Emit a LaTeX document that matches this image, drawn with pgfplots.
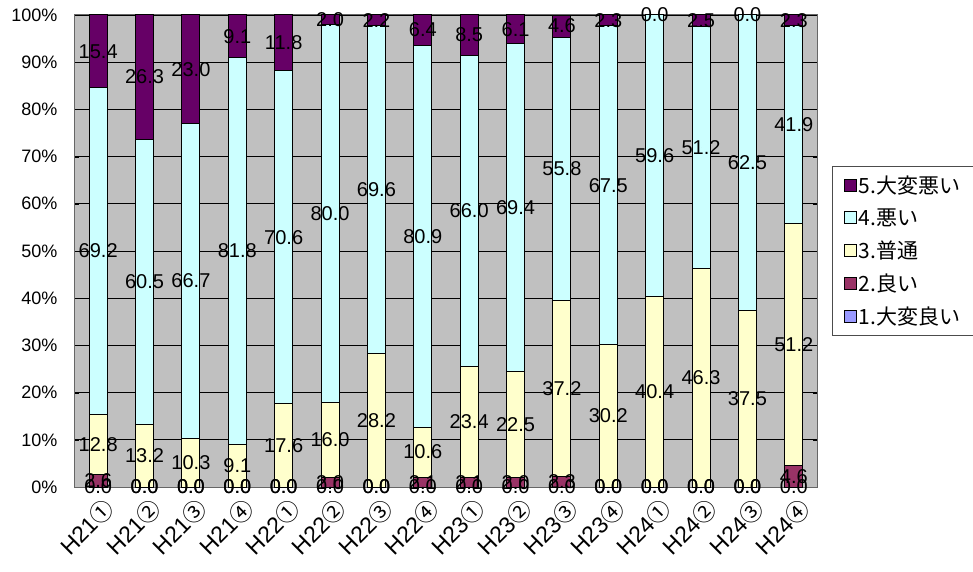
\documentclass[border=0pt]{standalone}
\usepackage{fontspec}
\setmainfont{Liberation Sans}
\newfontfamily\jp{Noto Sans CJK JP}
\usepackage{pgfplots}
\pgfplotsset{compat=1.18}
\usepackage{pgfplotstable}

\definecolor{c1}{HTML}{9999FF}
\definecolor{c2}{HTML}{993366}
\definecolor{c3}{HTML}{FFFFCC}
\definecolor{c4}{HTML}{CCFFFF}
\definecolor{c5}{HTML}{660066}
\definecolor{plotbg}{HTML}{C0C0C0}

% share of answers per quarter, 1 = very good ... 5 = very bad
\pgfplotstableread{
x  v1  v2  v3   v4   v5
0  0.0 2.6 12.8 69.2 15.4
1  0.0 0.0 13.2 60.5 26.3
2  0.0 0.0 10.3 66.7 23.0
3  0.0 0.0 9.1  81.8 9.1
4  0.0 0.0 17.6 70.6 11.8
5  0.0 2.0 16.0 80.0 2.0
6  0.0 0.0 28.2 69.6 2.2
7  0.0 2.1 10.6 80.9 6.4
8  0.0 2.1 23.4 66.0 8.5
9  0.0 2.0 22.5 69.4 6.1
10 0.0 2.3 37.2 55.8 4.6
11 0.0 0.0 30.2 67.5 2.3
12 0.0 0.0 40.4 59.6 0.0
13 0.0 0.0 46.3 51.2 2.5
14 0.0 0.0 37.5 62.5 0.0
15 0.0 4.6 51.2 41.9 2.3
}\data

\pgfplotsset{
  /pgf/number format/assume math mode=true,
  common/.style={scale only axis, width=742pt, height=472pt,
    xmin=-0.5, xmax=15.5, ymin=0, ymax=100},
  seg/.style={fill=#1, draw=black, line width=1pt},
  lab/.style={only marks, mark=*, mark size=0pt, mark options={draw=none, fill=none},
    nodes near coords={\pgfmathprintnumber[fixed,fixed zerofill,precision=1,assume math mode=true]{\pgfplotspointmeta}},
    nodes near coords align=center,
    every node near coord/.append style={anchor=center, inner sep=0pt, text=black,
      font=\fontsize{20}{20}\selectfont}},
}

\begin{document}
\begin{tikzpicture}
\begin{axis}[
    common,
    ybar stacked,
    bar width=18pt,
    xtick={0,...,15},
    xticklabels={H21{\jp ①},H21{\jp ②},H21{\jp ③},H21{\jp ④},
                 H22{\jp ①},H22{\jp ②},H22{\jp ③},H22{\jp ④},
                 H23{\jp ①},H23{\jp ②},H23{\jp ③},H23{\jp ④},
                 H24{\jp ①},H24{\jp ②},H24{\jp ③},H24{\jp ④}},
    minor xtick={-0.5,0.5,...,15.5},
    xtick style={draw=none},
    minor tick length=6pt,
    xticklabel style={rotate=45, anchor=north east, yshift=-6pt,
        font=\fontsize{23}{23}\selectfont},
    ytick={0,10,...,100},
    yticklabel={\pgfmathprintnumber{\tick}\%},
    yticklabel style={font=\fontsize{18}{18}\selectfont, xshift=-14pt},
    ytick style={black},
    ymajorgrids=true,
    grid style={black, line width=0.8pt},
    axis line style={draw=gray!80!black, line width=1pt},
    axis background/.style={fill=plotbg},
    reverse legend,
    legend style={at={(1.02,0.5)}, anchor=west, draw=gray!60!black, fill=white,
        font=\jp\fontsize{21}{23}\selectfont, row sep=10pt,
        inner xsep=12pt, inner ysep=7pt},
    legend cell align=left,
    legend image code/.code={\draw[#1, draw=black, line width=0.8pt] (0pt,-6pt) rectangle (12pt,6pt);},
]
\addplot[seg=c1] table[x=x, y=v1] {\data};
\addlegendentry{1.大変良い}
\addplot[seg=c2] table[x=x, y=v2] {\data};
\addlegendentry{2.良い}
\addplot[seg=c3] table[x=x, y=v3] {\data};
\addlegendentry{3.普通}
\addplot[seg=c4] table[x=x, y=v4] {\data};
\addlegendentry{4.悪い}
\addplot[seg=c5] table[x=x, y=v5] {\data};
\addlegendentry{5.大変悪い}
\end{axis}
% data labels centred in each segment
\begin{axis}[common, hide axis, point meta=explicit]
\addplot[lab] table[x=x, y expr=\thisrow{v1}/2, meta=v1] {\data};
\addplot[lab] table[x=x, y expr=\thisrow{v1}+\thisrow{v2}/2, meta=v2] {\data};
\addplot[lab] table[x=x, y expr=\thisrow{v1}+\thisrow{v2}+\thisrow{v3}/2, meta=v3] {\data};
\addplot[lab] table[x=x, y expr=\thisrow{v1}+\thisrow{v2}+\thisrow{v3}+\thisrow{v4}/2, meta=v4] {\data};
\addplot[lab] table[x=x, y expr=100-\thisrow{v5}/2, meta=v5] {\data};
\end{axis}
\pgfresetboundingbox
\path[use as bounding box] (current axis.south west) ++(-75pt,-84pt) rectangle ++(973pt,571pt);
\end{tikzpicture}
\end{document}
